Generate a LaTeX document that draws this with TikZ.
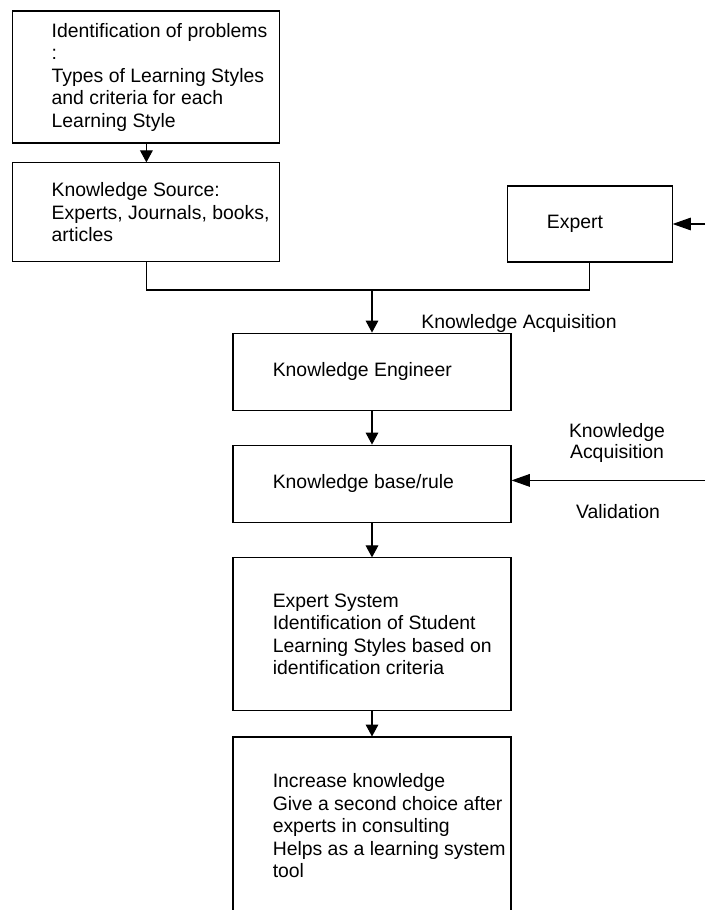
\documentclass[tikz,border=0pt]{standalone}
\usepackage{fontspec}
\setmainfont{Liberation Sans}
\usetikzlibrary{arrows.meta}
\tikzset{
  box/.style={draw, rectangle, line width=0.75pt, inner sep=0pt, minimum width=#1},
  boxtext/.style={anchor=west, inner sep=0pt, align=left, font=\fontsize{13.8}{16}\selectfont},
  note/.style={inner sep=0pt, align=center, font=\fontsize{13.8}{15}\selectfont},
  flow/.style={line width=0.75pt, -{Triangle[length=#1, width=9pt]}},
  flow/.default=8.5pt
}

\begin{document}
\begin{tikzpicture}
	\useasboundingbox (0,0) rectangle (17.625,-22.75);
	\clip (0,0) rectangle (17.625,-22.75);
	% left column
	\node[box=6.675cm, minimum height=3.3cm] (ip) at (3.66,-1.925) {};
	\node[boxtext] (iptxt) at ([xshift=0.975cm]ip.west) {Identification of problems\\:\\Types of Learning Styles\\and criteria for each\\Learning Style};
	\node[box=6.675cm, minimum height=2.475cm] (ks) at (3.66,-5.31) {};
	\node[boxtext] (kstxt) at ([xshift=0.975cm]ks.west) {Knowledge Source:\\Experts, Journals, books,\\articles};
	\node[box=4.125cm, minimum height=1.9cm] (ex) at (14.74,-5.6) {};
	\node[boxtext] (extxt) at ([xshift=1cm]ex.west) {Expert};
	%
	\node[box=6.95cm, minimum height=1.925cm] (ke) at (9.3,-9.29) {};
	\node[boxtext] (ketxt) at ([xshift=1cm]ke.west) {Knowledge Engineer};
	\node[box=6.95cm, minimum height=1.925cm] (kb) at (9.3,-12.09) {};
	\node[boxtext] (kbtxt) at ([xshift=1cm]kb.west) {Knowledge base/rule};
	\node[box=6.95cm, minimum height=3.825cm] (es) at (9.3,-15.86) {};
	\node[boxtext] (estxt) at ([xshift=1cm]es.west) {Expert System\\Identification of Student\\Learning Styles based on\\identification criteria};
	\node[box=6.95cm, minimum height=4.45cm] (use) at (9.3,-20.65) {};
	\node[boxtext] (usetxt) at ([xshift=1cm]use.west) {Increase knowledge\\Give a second choice after\\experts in consulting\\Helps as a learning system\\tool};
	%
	\coordinate (join) at (9.3,-7.25);
	\coordinate (rim) at (17.625,0);
	\draw[line width=0.75pt] (ks.south) |- (join) -| (ex.south);
	\draw[flow] (join) -- (ke.north);
	\draw[flow] (ip.south) -- (ks.north);
	\draw[flow] (ke.south) -- (kb.north);
	\draw[flow] (kb.south) -- (es.north);
	\draw[flow] (es.south) -- (use.north);
	\draw[flow=13pt] (ex.east -| rim) -- (ex.east);
	\draw[flow=13pt] ([yshift=0.08cm]kb.east -| rim) -- ([yshift=0.08cm]kb.east);
	%
	\node[note] (kacq) at (12.975,-8.075) {Knowledge Acquisition};
	\node[note] (kacq2) at (15.425,-11.07) {Knowledge\\Acquisition};
	\node[note] (valid) at (15.45,-12.8) {Validation};
\end{tikzpicture}
\end{document}
